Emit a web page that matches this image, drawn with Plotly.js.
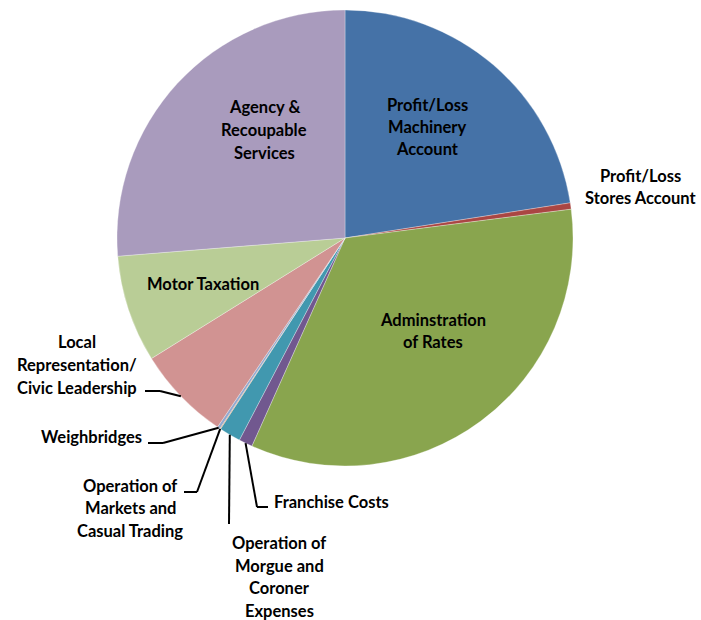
<!DOCTYPE html>
<html>
<head>
<meta charset="utf-8">
<script src="https://cdn.plot.ly/plotly-3.0.1.min.js"></script>
<style>html,body{margin:0;padding:0;background:#fff;}#chart{width:701px;height:620px;}</style>
</head>
<body>
<div id="chart"></div>
<script>
// ---- data ----
const categories = [
  "Profit/Loss Machinery Account",
  "Profit/Loss Stores Account",
  "Adminstration of Rates",
  "Franchise Costs",
  "Operation of Morgue and Coroner Expenses",
  "Operation of Markets and Casual Trading",
  "Weighbridges",
  "Local Representation/ Civic Leadership",
  "Motor Taxation",
  "Agency & Recoupable Services"
];
const shareValues = [22.56, 0.45, 33.75, 0.97, 1.53, 0.05, 0.2, 6.7, 7.6, 26.3];
const labelLines = [
  ["Profit/Loss", "Machinery", "Account"],
  ["Profit/Loss", "Stores Account"],
  ["Adminstration", "of Rates"],
  ["Franchise Costs"],
  ["Operation of", "Morgue and", "Coroner", "Expenses"],
  ["Operation of", "Markets and", "Casual Trading"],
  ["Weighbridges"],
  ["Local", "Representation/", "Civic Leadership"],
  ["Motor Taxation"],
  ["Agency &", "Recoupable", "Services"]
];
const sliceColors = ["#4572A7", "#AA4643", "#89A54E", "#71588F", "#4198AF",
                     "#DB843D", "#93A9CF", "#D19392", "#B9CD96", "#A99BBD"];

// ---- layout (pixels) ----
const W = 701, H = 620;
const CX = 345, CY = 238, R = 228;
const LINE_H = 22.5;
const labelPlace = [
  {x: 427, y: 127, anchor: "center"},
  {x: 640, y: 187, anchor: "center"},
  {x: 433, y: 331, anchor: "center"},
  {x: 272, y: 502, anchor: "left"},
  {x: 279, y: 577, anchor: "center"},
  {x: 130, y: 508, anchor: "center"},
  {x: 91,  y: 437, anchor: "center"},
  {x: 77,  y: 365, anchor: "center"},
  {x: 203, y: 284, anchor: "center"},
  {x: 264, y: 130, anchor: "center"}
];
const leaderPath = {
  3: [[257, 507], [268, 507]],
  4: [[229, 524]],
  5: [[197, 492], [184, 492]],
  6: [[163, 443], [148, 443]],
  7: [[160, 391], [145, 391]]
};

const px = x => x / W;
const py = y => 1 - y / H;

const total = shareValues.reduce((a, b) => a + b, 0);
let cum = 0;
const edgePts = shareValues.map(v => {
  const mid = (cum + v / 2) / total * 2 * Math.PI;
  cum += v;
  return [CX + R * Math.sin(mid), CY - R * Math.cos(mid)];
});

const annotations = [];
labelLines.forEach((lines, i) => {
  const p = labelPlace[i];
  lines.forEach((t, j) => {
    const yy = p.y + (j - (lines.length - 1) / 2) * LINE_H;
    annotations.push({
      xref: "paper", yref: "paper",
      x: px(p.x), y: py(yy),
      xanchor: p.anchor, yanchor: "middle",
      text: t, showarrow: false,
      font: {family: "Lato, 'Open Sans', sans-serif", size: 16.5, color: "#000000", weight: 700}
    });
  });
});

const shapes = [];
Object.keys(leaderPath).forEach(k => {
  const pts = [edgePts[k]].concat(leaderPath[k]);
  for (let s = 0; s < pts.length - 1; s++) {
    shapes.push({
      type: "line", xref: "paper", yref: "paper",
      x0: px(pts[s][0]), y0: py(pts[s][1]),
      x1: px(pts[s + 1][0]), y1: py(pts[s + 1][1]),
      line: {color: "#000000", width: 2}
    });
  }
});

const trace = {
  type: "pie",
  labels: categories,
  values: shareValues,
  sort: false,
  direction: "clockwise",
  rotation: 0,
  textinfo: "none",
  hoverinfo: "label+percent",
  marker: {colors: sliceColors, line: {width: 0.6, color: "rgba(255,255,255,0.5)"}},
  domain: {x: [px(CX - R), px(CX + R)], y: [py(CY + R), py(CY - R)]},
  showlegend: false
};

Plotly.newPlot("chart", [trace], {
  width: W, height: H,
  margin: {l: 0, r: 0, t: 0, b: 0},
  paper_bgcolor: "#ffffff",
  showlegend: false,
  annotations: annotations,
  shapes: shapes
}, {displayModeBar: false, staticPlot: true});
</script>
</body>
</html>
